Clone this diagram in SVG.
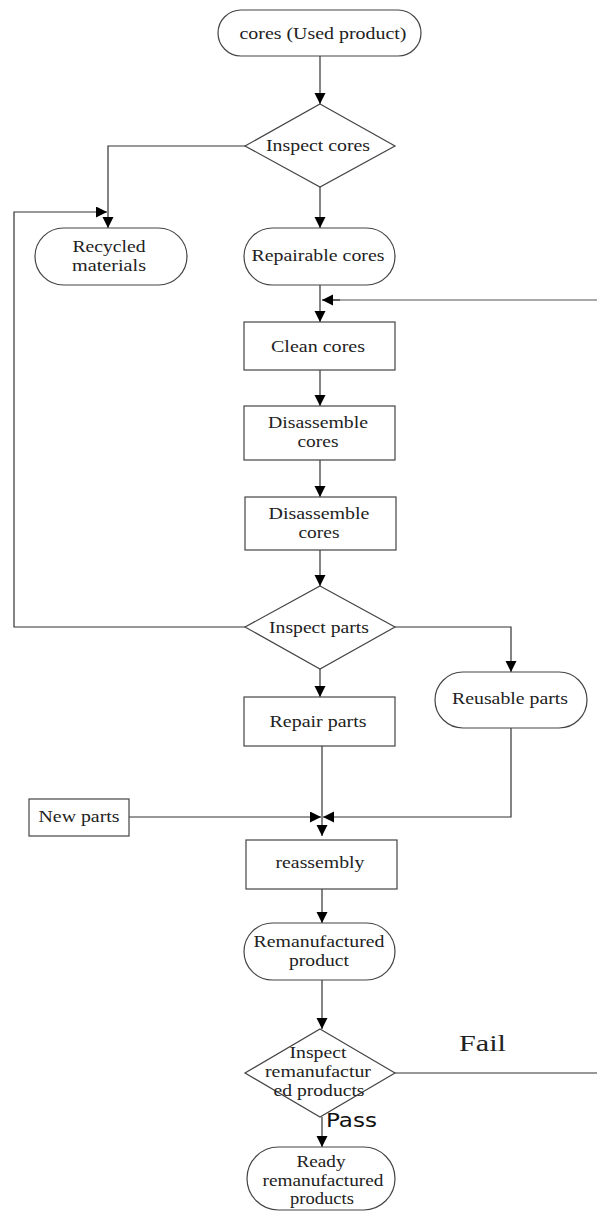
<svg xmlns="http://www.w3.org/2000/svg" width="597" height="1212" viewBox="0 0 597 1212">
<defs>
<marker id="ah" markerUnits="userSpaceOnUse" markerWidth="12" markerHeight="12" refX="11" refY="5.5" orient="auto">
<path d="M0,0 L11,5.5 L0,11 z" fill="#000"/>
</marker>
<style>
.n{fill:#fff;stroke:#444;stroke-width:1.2}
.t{font-family:"Liberation Serif","Times New Roman",serif;font-size:17.5px;fill:#222;text-anchor:middle}
.c{fill:none;stroke:#333;stroke-width:1.2}
.a{marker-end:url(#ah)}
.g{fill:none;stroke:#8c8c8c;stroke-width:1.6}
.s{font-family:"DejaVu Sans","Liberation Sans",sans-serif;font-size:20px;fill:#111}
.f{font-family:"Liberation Serif","Times New Roman",serif;font-size:24px;fill:#222}
</style>
</defs>
<rect width="597" height="1212" fill="#fff"/>
<g id="connectors">
<path class="c a" d="M320,56 V104"/>
<path class="c a" d="M245,146 H108 V228"/>
<path class="c a" d="M320,187 V228"/>
<path class="c a" d="M245,627 H14 V212 H107"/>
<path class="c a" d="M320,285 V322"/>
<path class="g" d="M597,300 H332"/>
<path class="c a" d="M340,300 H322"/>
<path class="c a" d="M320,370 V406"/>
<path class="c a" d="M320,460 V497"/>
<path class="c a" d="M320,550 V586"/>
<path class="c a" d="M395,627 H511 V672"/>
<path class="c a" d="M320,669 V697"/>
<path class="c" d="M322,746 V817"/>
<path class="c a" d="M511,728 V817 H323"/>
<path class="c a" d="M129,817 H321"/>
<path class="c a" d="M322,817 V836"/>
<path class="c a" d="M322,889 V923"/>
<path class="c a" d="M322,980 V1029"/>
<path class="c" d="M395,1073 H597"/>
<path class="c a" d="M322,1117 V1147"/>
<text class="f" x="459" y="1051" textLength="47" lengthAdjust="spacingAndGlyphs">Fail</text>
<text class="s" x="326" y="1127" textLength="51" lengthAdjust="spacingAndGlyphs">Pass</text>
</g>
<g id="n1"><rect class="n" x="218" y="10" width="203" height="46" rx="23"/><text class="t" x="323" y="39" textLength="167" lengthAdjust="spacingAndGlyphs">cores (Used product)</text></g>
<g id="n2"><polygon class="n" points="320,104 395,146 320,187 245,146"/><text class="t" x="318" y="151" textLength="104" lengthAdjust="spacingAndGlyphs">Inspect cores</text></g>
<g id="n3"><rect class="n" x="35" y="228" width="152" height="57" rx="28.5"/><text class="t" x="109" y="252" textLength="73" lengthAdjust="spacingAndGlyphs">Recycled</text><text class="t" x="109" y="271" textLength="74" lengthAdjust="spacingAndGlyphs">materials</text></g>
<g id="n4"><rect class="n" x="244" y="228" width="151" height="57" rx="28.5"/><text class="t" x="318" y="261" textLength="133" lengthAdjust="spacingAndGlyphs">Repairable cores</text></g>
<g id="n5"><rect class="n" x="244" y="322" width="151" height="48"/><text class="t" x="318" y="352" textLength="94" lengthAdjust="spacingAndGlyphs">Clean cores</text></g>
<g id="n6"><rect class="n" x="244" y="406" width="151" height="54"/><text class="t" x="318" y="428" textLength="100" lengthAdjust="spacingAndGlyphs">Disassemble</text><text class="t" x="318" y="447" textLength="41" lengthAdjust="spacingAndGlyphs">cores</text></g>
<g id="n7"><rect class="n" x="245" y="497" width="151" height="53"/><text class="t" x="319" y="519" textLength="101" lengthAdjust="spacingAndGlyphs">Disassemble</text><text class="t" x="319" y="538" textLength="41" lengthAdjust="spacingAndGlyphs">cores</text></g>
<g id="n8"><polygon class="n" points="320,586 395,627 320,669 245,627"/><text class="t" x="319" y="633" textLength="100" lengthAdjust="spacingAndGlyphs">Inspect parts</text></g>
<g id="n9"><rect class="n" x="435" y="672" width="152" height="56" rx="28"/><text class="t" x="510" y="704" textLength="116" lengthAdjust="spacingAndGlyphs">Reusable parts</text></g>
<g id="n10"><rect class="n" x="244" y="697" width="151" height="49"/><text class="t" x="318" y="727" textLength="97" lengthAdjust="spacingAndGlyphs">Repair parts</text></g>
<g id="n11"><rect class="n" x="29" y="799" width="100" height="37"/><text class="t" x="79" y="822" textLength="81" lengthAdjust="spacingAndGlyphs">New parts</text></g>
<g id="n12"><rect class="n" x="246" y="840" width="151" height="49"/><text class="t" x="320" y="868" textLength="89" lengthAdjust="spacingAndGlyphs">reassembly</text></g>
<g id="n13"><rect class="n" x="244" y="923" width="151" height="57" rx="28.5"/><text class="t" x="319" y="947" textLength="131" lengthAdjust="spacingAndGlyphs">Remanufactured</text><text class="t" x="319" y="966" textLength="60" lengthAdjust="spacingAndGlyphs">product</text></g>
<g id="n14"><polygon class="n" points="320,1029 395,1073 320,1117 245,1073"/><text class="t" x="318" y="1058" textLength="57" lengthAdjust="spacingAndGlyphs">Inspect</text><text class="t" x="318" y="1077" textLength="106" lengthAdjust="spacingAndGlyphs">remanufactur</text><text class="t" x="319" y="1096" textLength="91" lengthAdjust="spacingAndGlyphs">ed products</text></g>
<g id="n15"><rect class="n" x="247" y="1147" width="148" height="63" rx="31.5"/><text class="t" x="321" y="1167" textLength="49" lengthAdjust="spacingAndGlyphs">Ready</text><text class="t" x="323" y="1186" textLength="121" lengthAdjust="spacingAndGlyphs">remanufactured</text><text class="t" x="322" y="1204" textLength="64" lengthAdjust="spacingAndGlyphs">products</text></g>
</svg>
